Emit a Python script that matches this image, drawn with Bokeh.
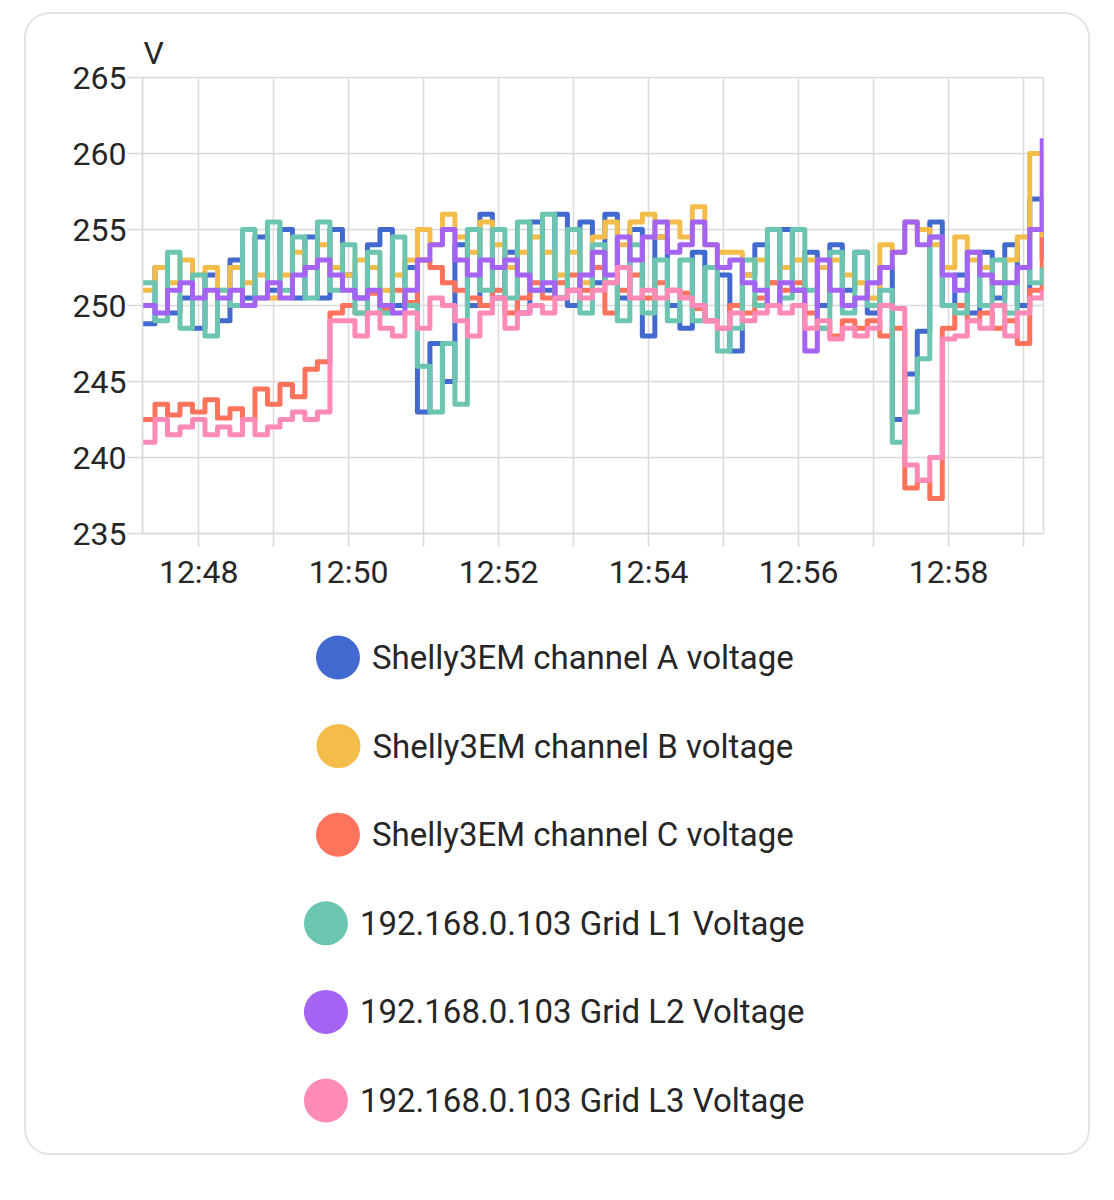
import numpy as np
import pandas as pd
from bokeh.plotting import figure
from bokeh.models import Range1d, FixedTicker, DatetimeTickFormatter, Title
from bokeh.layouts import column
from bokeh.core.properties import value
from bokeh.embed import file_html
from bokeh.resources import INLINE

# ---------------- data ----------------
start_time = "2024-05-01 12:47:15"
sample_seconds = 10

series_names = [
    "Shelly3EM channel A voltage",
    "Shelly3EM channel B voltage",
    "Shelly3EM channel C voltage",
    "192.168.0.103 Grid L1 Voltage",
    "192.168.0.103 Grid L2 Voltage",
    "192.168.0.103 Grid L3 Voltage",
]
series_colors = ["#4269d0", "#f4bd4a", "#ff725c", "#6cc5b0", "#a463f2", "#ff8ab7"]

channel_a = [248.8, 252.5, 249.5, 250.5, 248.5, 252, 249, 253, 250.5, 254.5,
             251, 255, 250.5, 254.5, 250.5, 255, 252, 250.5, 254, 255,
             250, 252.5, 243, 247.5, 245, 254, 250, 256, 250.5, 253.5,
             249.5, 255.5, 251, 256, 250, 255.5, 251.5, 256, 250.5, 255,
             248, 254.5, 250, 248.5, 253.5, 249, 252, 247, 252, 254,
             250, 255, 251, 253.5, 250, 254, 251, 253.5, 249.5, 252.5,
             242.5, 245.5, 248.3, 255.5, 250, 252, 249.5, 253.5, 250.5, 254,
             250, 257, 253]
channel_b = [251, 252.5, 251.5, 253, 252, 252.5, 251, 252.5, 251.5, 252,
             250.5, 252, 253.5, 252.5, 254, 252.5, 252, 253, 252.5, 251,
             252, 253, 255, 254, 256, 254.5, 253.5, 255.5, 254, 252.5,
             253.5, 254.5, 253.5, 252, 253.5, 251.5, 254.5, 255.5, 254, 255.5,
             256, 254.5, 255.5, 254.5, 256.5, 254, 253.5, 253.5, 252, 253,
             251.5, 252.5, 253, 253, 252.5, 253, 252, 251.5, 250.5, 254,
             253.5, 255.5, 255, 254, 252.5, 254.5, 253, 252.5, 251.5, 253,
             254.5, 260, 254.5]
channel_c = [242.5, 243.5, 242.8, 243.5, 243, 243.8, 242.6, 243.2, 242.5, 244.5,
             243.5, 244.8, 244, 245.8, 246.3, 249.5, 250, 249.5, 250.8, 249.8,
             251, 250.2, 253, 252.5, 251.5, 251, 250.5, 250, 251, 249.5,
             250.5, 251.5, 250.5, 251.5, 252, 251, 252.5, 249.5, 251, 252,
             250.5, 251.5, 251, 250.8, 249.8, 249, 248.5, 250, 249.5, 250.5,
             251.5, 251, 251.5, 249.5, 248.5, 248, 249, 248.5, 249, 248,
             248.5, 238, 238.5, 237.3, 248.5, 250, 249, 249.5, 248.5, 249,
             247.5, 251, 254.5]
grid_l1 = [251.5, 249, 253.5, 248.5, 252, 248, 251, 250, 255, 250.5,
           255.5, 251, 254.5, 250.5, 255.5, 251, 254, 249.5, 253.5, 249.5,
           254.5, 250, 246, 243, 247.5, 243.5, 255, 251, 255, 250.5,
           255.5, 251, 256, 250.5, 255, 249.5, 254, 251.5, 249, 254,
           249.5, 253, 249, 253, 249, 252.5, 247, 248.5, 253, 250,
           255, 250.5, 255, 251, 248.5, 253.5, 249.5, 253.5, 250, 251,
           241, 243, 246.5, 254.5, 250, 249.5, 253.5, 250, 253, 249.5,
           252.5, 251.5, 252.5]
grid_l2 = [250, 249.5, 251, 251.5, 250.5, 251, 250.5, 251, 250, 250.5,
           251.5, 250.5, 252, 252.5, 253, 252, 251, 250.5, 251, 250,
           249.5, 251, 253, 254, 255, 253, 252, 253, 252.5, 253,
           252, 251, 251.5, 250.5, 251, 252, 253.5, 252, 254.5, 253,
           254.5, 255.5, 253.5, 254, 255.5, 254, 252.5, 253, 251.5, 251,
           250, 251.5, 251, 247, 253, 251, 250, 250.5, 251.5, 252.5,
           253.5, 255.5, 254, 254.5, 252, 251, 253.5, 252, 251.5, 251.5,
           252.5, 255, 261]
grid_l3 = [241, 242.5, 241.5, 242, 242.5, 241.5, 242, 241.5, 242.5, 241.5,
           242, 242.5, 243, 242.5, 243, 249, 249, 248, 249.5, 248.5,
           248, 249.5, 248.5, 250.5, 250, 249, 248, 249.5, 250.5, 248.5,
           249.5, 250, 249.5, 250.5, 251, 250.5, 251, 251.5, 252.5, 250.5,
           251, 250.5, 251, 250.5, 250, 249, 248.5, 249.5, 249, 249.5,
           250, 249.5, 250, 248.5, 249, 247.8, 248.5, 248, 248.5, 250,
           249.8, 239.5, 238.5, 240, 247.8, 248, 249, 248.5, 250, 248,
           249.5, 250.5, 251]

y_ticks = [235, 240, 245, 250, 255, 260, 265]
y_unit = "V"

all_series = [channel_a, channel_b, channel_c, grid_l1, grid_l2, grid_l3]

# ---------------- layout constants ----------------
CARD_W = 1062
CHART_H = 586
LEGEND_H = 553
BORDER_L = 116
BORDER_R = 45
GRID = "#dadada"
TEXT = "#262626"
FONT = "Roboto"
LEGEND_FONT_PX = 33

base = pd.Timestamp(start_time)
n = len(channel_a)
times = base + pd.to_timedelta(np.arange(n) * sample_seconds, unit="s")
x_end = times[-1] + pd.Timedelta(seconds=1)

def ms(ts):
    return ts.value / 1e6

first_min = (base + pd.Timedelta(minutes=1)).floor("min")
minute_ticks = []
m = first_min
while m <= x_end:
    minute_ticks.append(m)
    m = m + pd.Timedelta(minutes=1)
major = [ms(t) for t in minute_ticks if t.minute % 2 == 0]
minor = [ms(t) for t in minute_ticks if t.minute % 2 == 1]

p = figure(width=CARD_W, height=CHART_H, x_axis_type="datetime",
           x_range=Range1d(ms(base), ms(x_end)), y_range=Range1d(y_ticks[0], y_ticks[-1]),
           toolbar_location=None, output_backend="svg",
           min_border_left=BORDER_L, min_border_right=BORDER_R, min_border_top=63, min_border_bottom=67)
p.background_fill_color = "white"
p.border_fill_color = "white"
p.outline_line_color = GRID
p.outline_line_width = 1.5

for vals, col in zip(all_series, series_colors):
    p.step(times, vals, mode="after", line_width=5, line_color=col, line_join="round")

p.xaxis.ticker = FixedTicker(ticks=major, minor_ticks=minor)
p.xaxis.formatter = DatetimeTickFormatter(seconds="%H:%M", minsec="%H:%M", minutes="%H:%M",
                                          hourmin="%H:%M", hours="%H:%M")
p.yaxis.ticker = FixedTicker(ticks=y_ticks)

for ax in (p.xaxis, p.yaxis):
    ax.axis_line_color = GRID
    ax.axis_line_width = 1.5
    ax.major_tick_line_color = GRID
    ax.major_tick_line_width = 1.5
    ax.major_tick_in = 0
    ax.major_label_text_font = FONT
    ax.major_label_text_font_size = "32px"
    ax.major_label_text_color = TEXT
p.xaxis.major_tick_out = 13
p.xaxis.minor_tick_out = 13
p.xaxis.minor_tick_in = 0
p.xaxis.minor_tick_line_color = GRID
p.xaxis.minor_tick_line_width = 1.5
p.xaxis.major_label_standoff = 6
p.yaxis.major_tick_out = 15
p.yaxis.minor_tick_line_color = None
p.yaxis.major_label_standoff = 1

p.xgrid.grid_line_color = GRID
p.xgrid.grid_line_width = 1.5
p.xgrid.minor_grid_line_color = GRID
p.xgrid.minor_grid_line_width = 1.5
p.ygrid.grid_line_color = GRID
p.ygrid.grid_line_width = 1.5

p.add_layout(Title(text=y_unit, align="left", offset=1, standoff=11, text_font=FONT,
                   text_font_size="32px", text_font_style="normal", text_color=TEXT), "above")

# ---------------- legend ----------------
char_w = {" ": 0.248, ".": 0.264, "S": 0.593, "h": 0.551, "e": 0.529, "l": 0.243, "y": 0.474,
          "E": 0.545, "M": 0.872, "c": 0.523, "a": 0.544, "n": 0.552, "A": 0.652, "B": 0.622,
          "C": 0.651, "v": 0.484, "o": 0.570, "t": 0.327, "g": 0.560, "G": 0.681, "r": 0.338,
          "i": 0.243, "d": 0.560, "L": 0.538, "V": 0.636}
def text_width(s, size=LEGEND_FONT_PX):
    return sum(char_w.get(c, 0.562) for c in s) * size

lg = figure(width=CARD_W, height=LEGEND_H,
            x_range=Range1d(BORDER_L, CARD_W - BORDER_R), y_range=Range1d(LEGEND_H, 0),
            toolbar_location=None, output_backend="svg",
            min_border_left=BORDER_L, min_border_right=BORDER_R, min_border_top=0, min_border_bottom=0)
lg.axis.visible = False
lg.grid.visible = False
lg.outline_line_color = None
lg.background_fill_color = "white"
lg.border_fill_color = "white"

center_x = 528
r = 22
gap = 12
first_y = 57
step_y = 88.6
cx, cy, tx = [], [], []
for i, name in enumerate(series_names):
    total = 2 * r + gap + text_width(name)
    left = center_x - total / 2
    cx.append(left + r)
    tx.append(left + 2 * r + gap)
    cy.append(first_y + i * step_y)
lg.scatter(cx, cy, size=2 * r, marker="circle", fill_color=series_colors, line_color=None)
lg.text(tx, cy, text=series_names, text_font=value(FONT), text_font_size=f"{LEGEND_FONT_PX}px",
        text_baseline="middle", text_align="left", text_color=TEXT)

layout = column(p, lg, margin=(12, 0, 0, 24),
                styles={"border": "2px solid #e3e3e3", "border-radius": "26px", "overflow": "hidden",
                        "background-color": "white"})

open("out.html", "w").write(file_html(layout, INLINE))
